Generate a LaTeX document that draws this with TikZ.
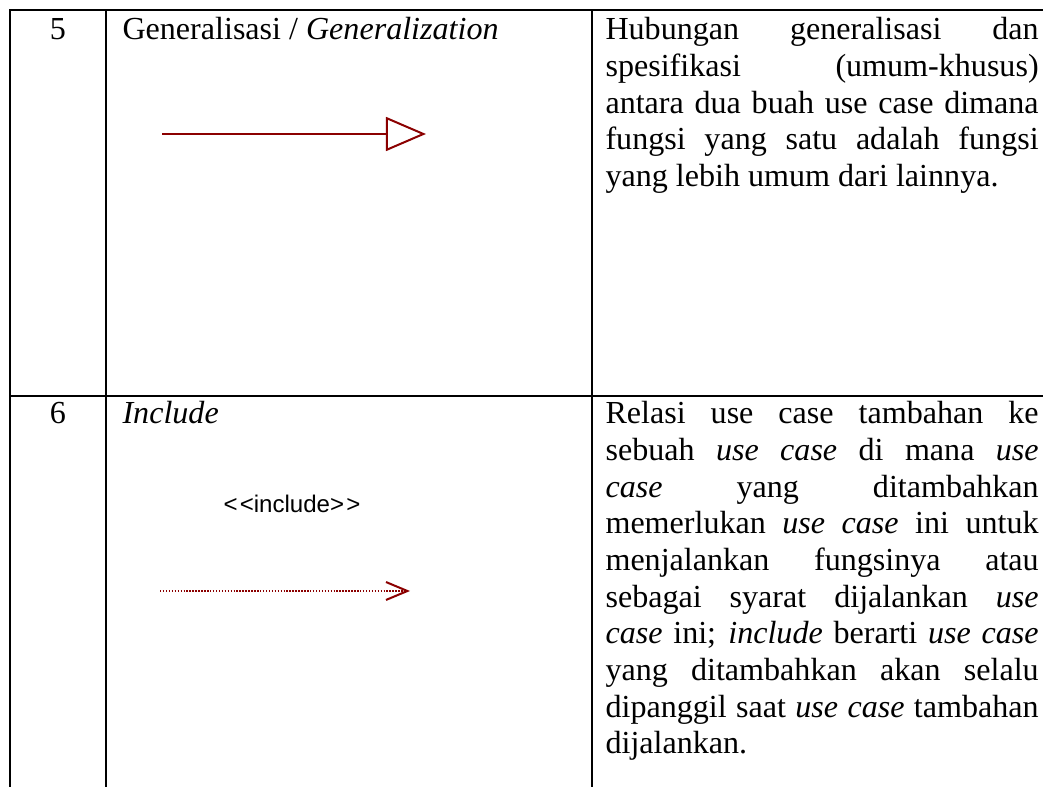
\documentclass[tikz,border=0pt]{standalone}
\usepackage[dvipsnames,svgnames]{xcolor}
\usepackage{fontspec}
\setmainfont{Liberation Serif}
\newfontfamily\umlfont{Liberation Sans}
\usetikzlibrary{arrows.meta}

\begin{document}
\begin{tikzpicture}[
  x=0.374pt, y=-0.374pt,
  grid/.style={line width=0.8pt, black},
  cell/.style={anchor=base west, inner sep=0pt, font=\fontsize{12}{13.7}\selectfont},
  desc/.style={cell, text width=162pt, align=justify},
  num/.style={anchor=base, inner sep=0pt, font=\fontsize{12}{13.7}\selectfont},
  genarr/.style={-{Triangle[open, length=15pt, width=12.7pt]}, line width=0.75pt, DarkRed},
  incarr/.style={-{Straight Barb[length=8pt, width=6.7pt]}, line width=0.75pt, DarkRed,
    dash pattern=on 0.55pt off 0.55pt},
]
\useasboundingbox (0,0) rectangle (1043,787);

% table rules
\draw[grid] (9,10) -- (1043,10);
\draw[grid] (10,396) -- (1043,396);
\foreach \x in {10,106,592}
  \draw[grid] (\x,10) -- (\x,787);

% row 5
\node[num] (n5) at (58,40) {5};
\node[cell] (gen) at (122,40) {Generalisasi / \textit{Generalization}};
\node[desc] (gendesc) at (605,40) {\hyphenpenalty=10000
  Hubungan generalisasi dan\linebreak
  spesifikasi (umum-khusus)\linebreak
  antara dua buah use case dimana\linebreak
  fungsi yang satu adalah fungsi\linebreak
  yang lebih umum dari lainnya.};

\coordinate (gfrom) at (162,134);
\coordinate (gto) at (426,134);
\draw[genarr] (gfrom) -- (gto);

% row 6
\node[num] (n6) at (58,424) {6};
\node[cell] (inc) at (122,424) {\textit{Include}};
\node[desc] (incdesc) at (605,424) {\hyphenpenalty=10000
  Relasi use case tambahan ke\linebreak
  sebuah \textit{use case} di mana \textit{use}\linebreak
  \textit{case} yang ditambahkan\linebreak
  memerlukan \textit{use case} ini untuk\linebreak
  menjalankan fungsinya atau\linebreak
  sebagai syarat dijalankan \textit{use}\linebreak
  \textit{case} ini; \textit{include} berarti \textit{use case}\linebreak
  yang ditambahkan akan selalu\linebreak
  dipanggil saat \textit{use case} tambahan\linebreak
  dijalankan.};

\node[inner sep=0pt, font=\umlfont\fontsize{9}{10}\selectfont] (stereo) at (292,504)
  {<\kern0.8pt<include>\kern0.8pt>};
\coordinate (ifrom) at (160,591);
\coordinate (ito) at (410,591);
\draw[incarr] (ifrom) -- (ito);

\end{tikzpicture}
\end{document}
